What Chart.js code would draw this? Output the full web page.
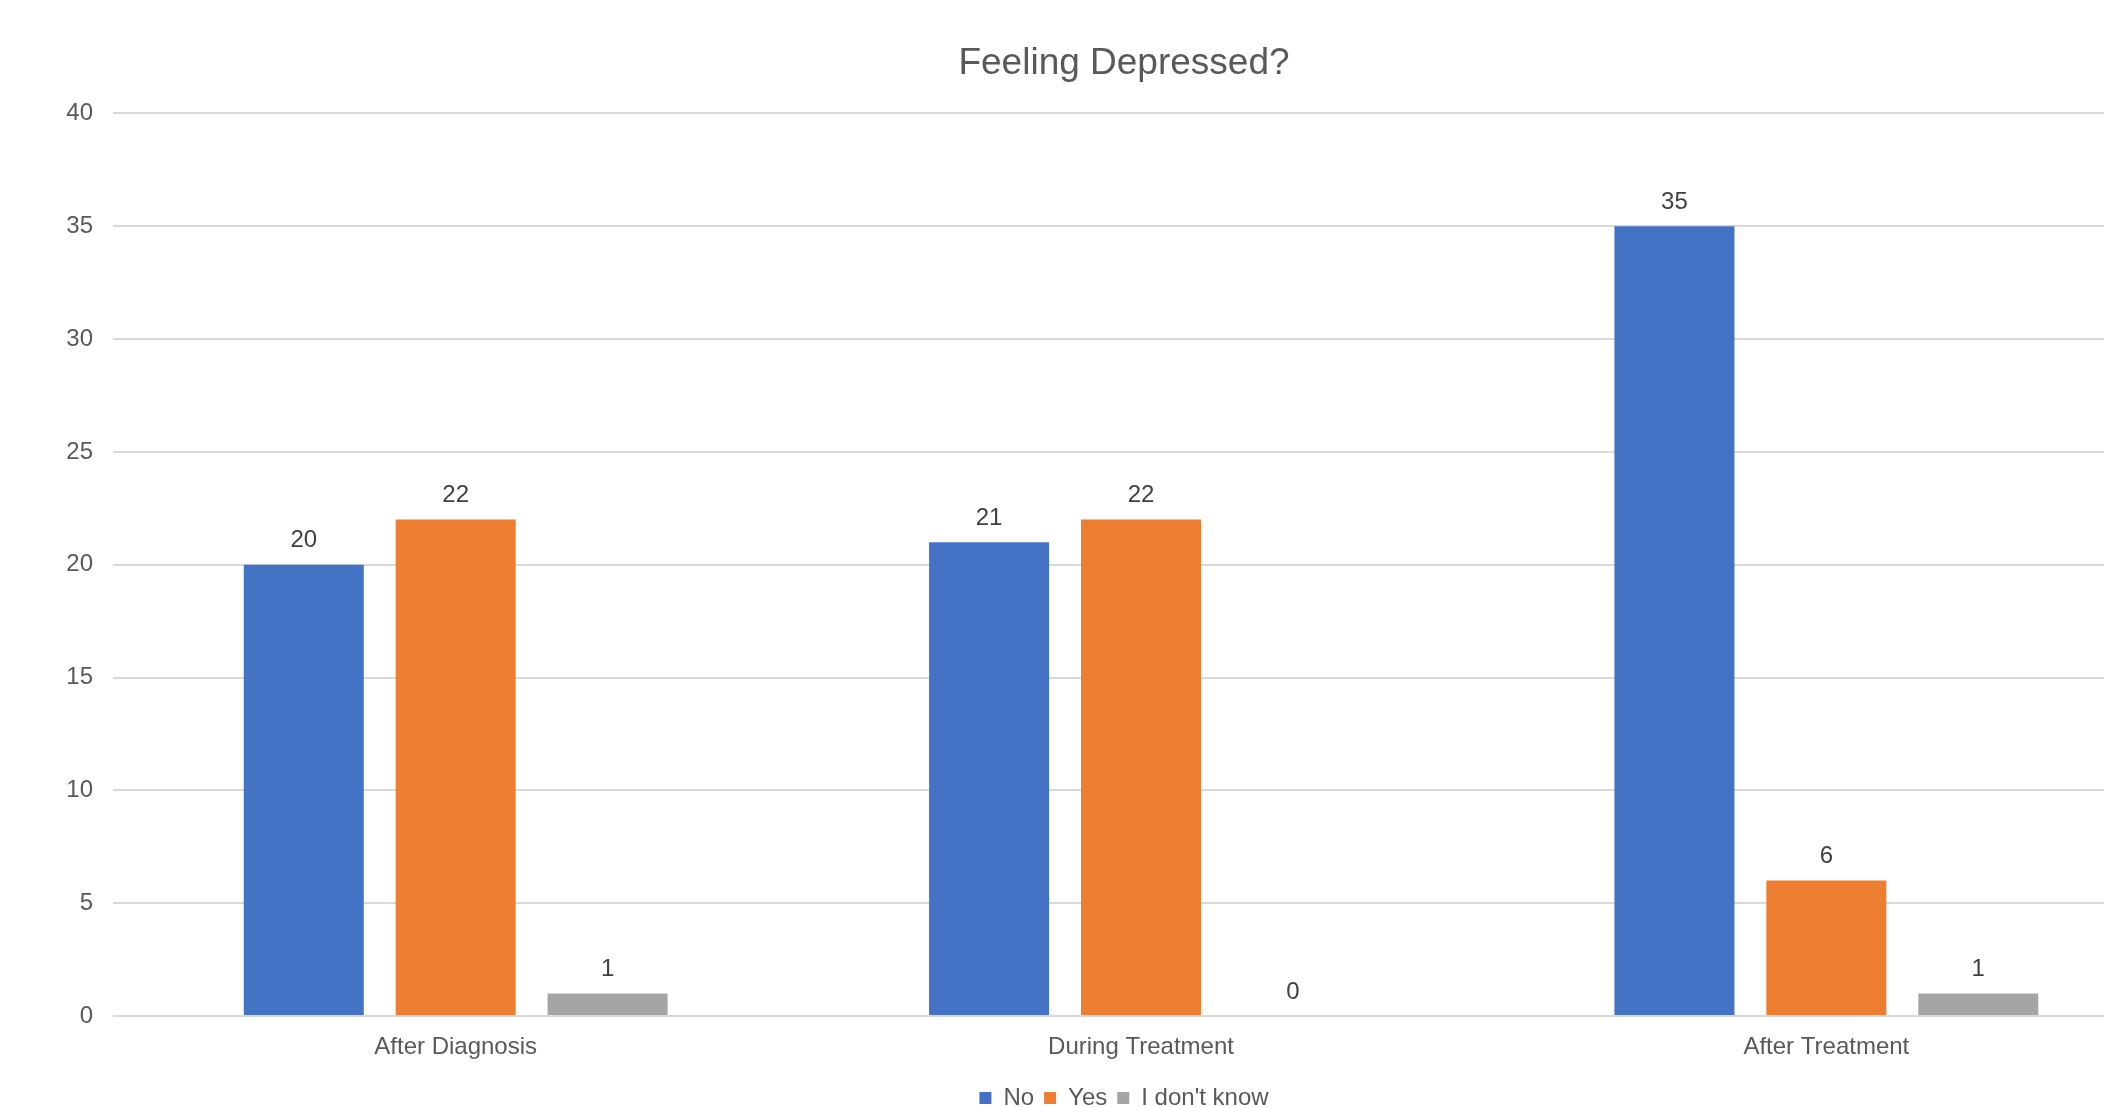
<!DOCTYPE html>
<html>
<head>
<meta charset="utf-8">
<title>Feeling Depressed?</title>
<script src="https://cdn.jsdelivr.net/npm/chart.js@4/dist/chart.umd.min.js"></script>
<style>
  html, body { margin: 0; padding: 0; background: #ffffff; overflow: hidden; }
  #wrap { position: absolute; left: 0; top: 0; width: 2248px; height: 1120px; }
  canvas { display: block; }
</style>
</head>
<body>
<div id="wrap"><canvas id="chart" width="2248" height="1120"></canvas></div>
<script>
// Survey responses per stage
const categories = ['After Diagnosis', 'During Treatment', 'After Treatment'];
const seriesNames = ['No', 'Yes', "I don't know"];
const noValues = [20, 21, 35];
const yesValues = [22, 22, 6];
const dontKnowValues = [1, 0, 1];
const yTicks = [0, 5, 10, 15, 20, 25, 30, 35, 40];

const FONT = '"Liberation Sans", Arial, Helvetica, sans-serif';
const colors = ['#4472C4', '#ED7D31', '#A5A5A5'];

// Writes each bar's value just above it
const valueLabels = {
  id: 'valueLabels',
  afterDatasetsDraw(chart) {
    const ctx = chart.ctx;
    ctx.save();
    ctx.font = '24px ' + FONT;
    ctx.fillStyle = '#404040';
    ctx.textAlign = 'center';
    ctx.textBaseline = 'middle';
    chart.data.datasets.forEach((ds, di) => {
      const meta = chart.getDatasetMeta(di);
      meta.data.forEach((bar, i) => {
        ctx.fillText(String(ds.data[i]), bar.x, bar.y - 24);
      });
    });
    ctx.restore();
  }
};

new Chart(document.getElementById('chart'), {
  type: 'bar',
  data: {
    labels: categories,
    datasets: [
      { label: seriesNames[0], data: noValues, backgroundColor: colors[0] },
      { label: seriesNames[1], data: yesValues, backgroundColor: colors[1] },
      { label: seriesNames[2], data: dontKnowValues, backgroundColor: colors[2] }
    ]
  },
  options: {
    responsive: false,
    animation: false,
    devicePixelRatio: 1,
    categoryPercentage: 0.665,
    barPercentage: 0.79,
    layout: { padding: 0 },
    plugins: {
      title: {
        display: true,
        text: 'Feeling Depressed?',
        color: '#595959',
        font: { family: FONT, size: 37, weight: 'normal' },
        padding: { top: 42, bottom: 27 }
      },
      legend: {
        display: true,
        position: 'bottom',
        labels: {
          color: '#595959',
          font: { family: FONT, size: 24 },
          boxWidth: 12,
          boxHeight: 12,
          padding: 10
        }
      },
      tooltip: { enabled: false }
    },
    scales: {
      x: {
        grid: { display: false, drawTicks: false },
        border: { display: false },
        ticks: {
          color: '#595959',
          font: { family: FONT, size: 24 },
          padding: 17
        },
        afterFit(scale) { scale.height = 60; }
      },
      y: {
        min: 0,
        max: 40,
        afterBuildTicks(scale) { scale.ticks = yTicks.map(v => ({ value: v })); },
        grid: { color: '#d9d9d9', lineWidth: 2, drawTicks: false },
        border: { display: false },
        ticks: {
          color: '#595959',
          font: { family: FONT, size: 24 },
          padding: 20
        },
        afterFit(scale) { scale.width = 113; }
      },
      // empty margin to the right of the plot
      yRight: {
        position: 'right',
        display: true,
        min: 0,
        max: 1,
        grid: { display: false, drawTicks: false },
        border: { display: false },
        ticks: { display: false },
        afterFit(scale) { scale.width = 79; }
      }
    }
  },
  plugins: [valueLabels]
});
</script>
</body>
</html>
